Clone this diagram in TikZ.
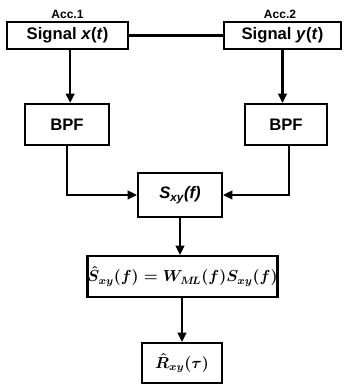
\documentclass[tikz,border=0pt]{standalone}
\usepackage{fontspec}
\setmainfont{Liberation Sans}
\usetikzlibrary{arrows.meta}
\begin{document}
\begin{tikzpicture}[x=0.75pt,y=-0.75pt,
  box/.style={draw, line width=1.6pt, inner sep=0pt, font=\bfseries\fontsize{12.5}{14}\selectfont},
  acc/.style={font=\bfseries\fontsize{9}{10}\selectfont, inner sep=0pt},
  arr/.style={line width=1.6pt, -{Triangle[length=7pt,width=6.5pt]}},
  ln/.style={line width=1.6pt}]
\useasboundingbox (0,0) rectangle (343,385);
\node[box, minimum width=90.75pt, minimum height=20.25pt] (sx) at (67.5,35.5) {Signal \textit{x}(\textit{t})};
\node[box, minimum width=87.75pt, minimum height=20.25pt] (sy) at (282.5,35.5) {Signal \textit{y}(\textit{t})};
\node[acc] (a1) at (67.5,14) {Acc.1};
\node[acc] (a2) at (280,14) {Acc.2};
\node[box, minimum width=63pt, minimum height=30.75pt] (b1) at (67,124.5) {BPF};
\node[box, minimum width=61.5pt, minimum height=30.75pt] (b2) at (286,124.5) {BPF};
\node[box, minimum width=63pt, minimum height=33pt] (sxy) at (180,195) {\itshape S\textsubscript{xy}(f)};
\node[box, minimum width=135.75pt, minimum height=30.75pt, font=\fontsize{12}{14}\selectfont\boldmath] (eq) at (182.5,276.5) {$\hat{S}_{xy}(f)=W_{M\!L}(f)S_{xy}(f)$};
\node[box, minimum width=60pt, minimum height=30pt, font=\fontsize{12}{14}\selectfont\boldmath] (r) at (182,363) {$\hat{R}_{xy}(\tau)$};
\draw[ln] (sx.east) -- (sy.west);
\draw[arr] ([xshift=2pt]sx.south) -- ([xshift=2pt]sx.south |- b1.north);
\draw[arr] (sy.south) -- (sy.south |- b2.north);
\draw[arr] (b1.south) |- (sxy.west);
\draw[arr] ([xshift=2pt]b2.south) |- (sxy.east);
\draw[arr] (sxy.south) -- (sxy.south |- eq.north);
\draw[arr] (eq.south -| r.north) -- (r.north);
\end{tikzpicture}
\end{document}
